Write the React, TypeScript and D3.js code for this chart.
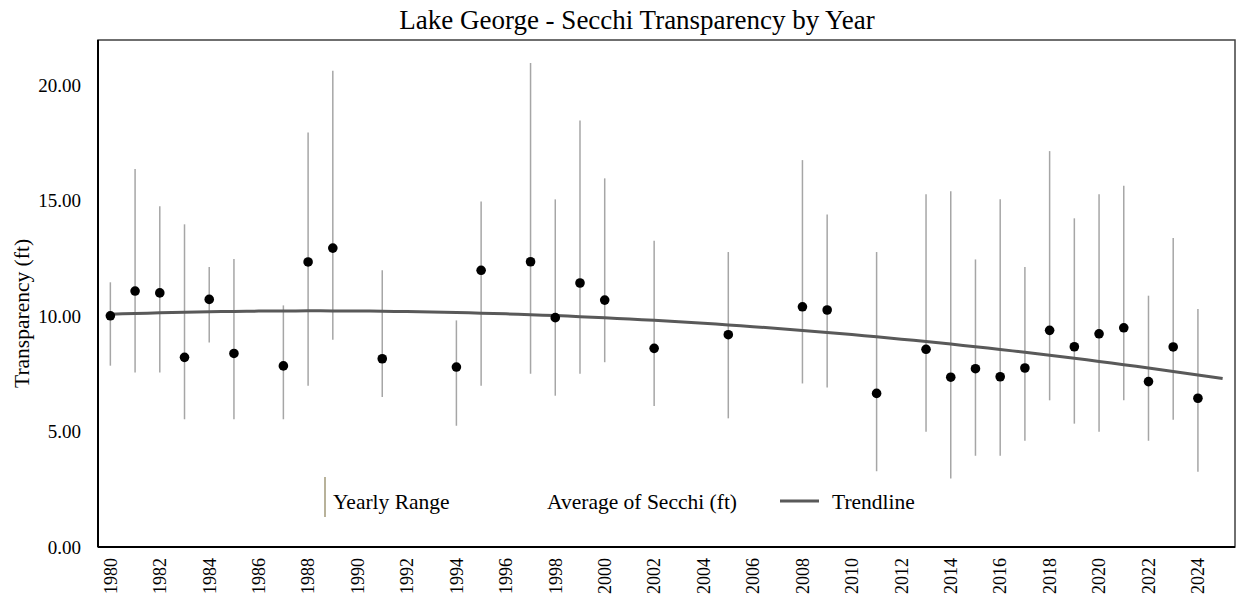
import * as d3 from "d3";

// yearly Secchi readings, Lake George (ft)
const years = [
  1980, 1981, 1982, 1983, 1984, 1985, 1987, 1988, 1989, 1991, 1994, 1995, 1997, 1998, 1999, 2000, 2002,
  2005, 2008, 2009, 2011, 2013, 2014, 2015, 2016, 2017, 2018, 2019, 2020, 2021, 2022, 2023, 2024,
];
const avgSecchi = [
  10.01, 11.08, 11.0, 8.21, 10.72, 8.38, 7.84, 12.34, 12.94, 8.15, 7.79, 11.98, 12.35, 9.93, 11.43, 10.69, 8.6,
  9.19, 10.4, 10.26, 6.65, 8.56, 7.35, 7.72, 7.37, 7.75, 9.38, 8.67, 9.23, 9.49, 7.16, 8.66, 6.44,
];
const rangeMin = [
  7.85, 7.55, 7.55, 5.53, 8.85, 5.53, 5.53, 6.98, 8.97, 6.49, 5.25, 6.98, 7.5, 6.55, 7.5, 8.0, 6.1,
  5.57, 7.08, 6.9, 3.28, 4.99, 2.97, 3.95, 3.95, 4.6, 6.35, 5.34, 4.99, 6.35, 4.6, 5.51, 3.26,
];
const rangeMax = [
  11.46, 16.36, 14.75, 13.97, 12.12, 12.47, 10.46, 17.95, 20.62, 11.98, 9.81, 14.96, 20.95, 15.05, 18.47, 15.96, 13.26,
  12.77, 16.75, 14.4, 12.77, 15.27, 15.4, 12.45, 15.06, 12.12, 17.14, 14.23, 15.27, 15.64, 10.88, 13.38, 10.3,
];
const yTicks = [0, 5, 10, 15, 20];
const xTicks = d3.range(1980, 2025, 2);

const W = 1242;
const H = 599;
const M = { left: 98, top: 40, right: 1235, bottom: 547 };
const FONT = "'Liberation Serif', 'Times New Roman', serif";

// 2nd order polynomial least squares, like the spreadsheet trendline
function quadFit(xs: number[], ys: number[]) {
  const s = [0, 0, 0, 0, 0];
  const t = [0, 0, 0];
  xs.forEach((x, i) => {
    for (let k = 0; k < 5; k++) s[k] += Math.pow(x, k);
    for (let k = 0; k < 3; k++) t[k] += ys[i] * Math.pow(x, k);
  });
  const A = [
    [s[0], s[1], s[2], t[0]],
    [s[1], s[2], s[3], t[1]],
    [s[2], s[3], s[4], t[2]],
  ];
  for (let c = 0; c < 3; c++) {
    for (let r = c + 1; r < 3; r++) {
      const f = A[r][c] / A[c][c];
      for (let k = c; k < 4; k++) A[r][k] -= f * A[c][k];
    }
  }
  const coef = [0, 0, 0];
  for (let r = 2; r >= 0; r--) {
    let v = A[r][3];
    for (let k = r + 1; k < 3; k++) v -= A[r][k] * coef[k];
    coef[r] = v / A[r][r];
  }
  return (x: number) => coef[0] + coef[1] * x + coef[2] * x * x;
}

export default function App() {
  const x = d3.scaleLinear().domain([1979.5, 2025.5]).range([M.left, M.right]);
  const y = d3.scaleLinear().domain([0, 21.95]).range([M.bottom, M.top]);

  const fit = quadFit(years.map(d => d - 1980), avgSecchi);
  const trendPts = d3.range(1980, 2025.01, 0.5).map(yr => [yr, fit(yr - 1980)] as [number, number]);
  const trendPath = d3.line<[number, number]>().x(d => x(d[0])).y(d => y(d[1]))(trendPts)!;

  return (
    <>
      <style>{`body{margin:0}`}</style>
      <svg width={W} height={H} style={{ display: "block", background: "#fff", fontFamily: FONT }}>
        <text x={637} y={29} textAnchor="middle" fontSize={27} fill="#000">
          Lake George - Secchi Transparency by Year
        </text>

        {/* frame */}
        <rect x={M.left} y={M.top} width={M.right - M.left} height={M.bottom - M.top} fill="none" stroke="#404040" strokeWidth={1.5} />

        {/* y axis labels */}
        {yTicks.map(t => (
          <text key={t} x={81} y={y(t)} dy="0.35em" textAnchor="end" fontSize={19} fill="#000">
            {t.toFixed(2)}
          </text>
        ))}
        <text transform={`translate(29,388) rotate(-90)`} textAnchor="start" fontSize={21.5} fill="#000">
          Transparency (ft)
        </text>

        {/* x axis labels */}
        {xTicks.map(t => (
          <text key={t} transform={`translate(${x(t)},558) rotate(-90)`} dy="0.35em" textAnchor="end" fontSize={18} fill="#000">
            {t}
          </text>
        ))}

        {/* yearly range */}
        {years.map((yr, i) => (
          <line key={`r${yr}`} x1={x(yr)} x2={x(yr)} y1={y(rangeMin[i])} y2={y(rangeMax[i])} stroke="#a6a6a6" strokeWidth={1.5} />
        ))}

        {/* trend */}
        <path d={trendPath} fill="none" stroke="#595959" strokeWidth={3} />

        {/* averages */}
        {years.map((yr, i) => (
          <circle key={`a${yr}`} cx={x(yr)} cy={y(avgSecchi[i])} r={4.8} fill="#000" />
        ))}

        {/* axis lines */}
        <line x1={M.left} x2={M.left} y1={M.top} y2={M.bottom} stroke="#000" strokeWidth={2} />
        <line x1={M.left} x2={M.right} y1={M.bottom} y2={M.bottom} stroke="#000" strokeWidth={2} />

        {/* legend */}
        <g fontSize={21.5} fill="#000">
          <line x1={325} x2={325} y1={477} y2={517} stroke="#a09878" strokeWidth={1.5} />
          <text x={333} y={509}>Yearly Range</text>
          <text x={547} y={509}>Average of Secchi (ft)</text>
          <line x1={780} x2={819} y1={501} y2={501} stroke="#595959" strokeWidth={3} />
          <text x={832} y={509}>Trendline</text>
        </g>
      </svg>
    </>
  );
}
